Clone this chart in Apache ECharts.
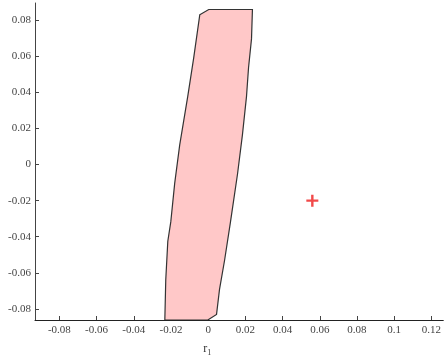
<!DOCTYPE html>
<html>
<head>
<meta charset="utf-8">
<script src="https://cdn.jsdelivr.net/npm/echarts@6/dist/echarts.min.js"></script>
<style>html,body{margin:0;padding:0;background:#fff}#c{width:444px;height:362px}</style>
</head>
<body>
<div id="c"></div>
<script>
// Region boundary (r1, r2) vertices
var regionR1 = [-0.0045, 0.0003, 0.0238, 0.0233, 0.0217, 0.0206, 0.0184, 0.0158, 0.0120, 0.0088, 0.0061, 0.0045, -0.0002, -0.0233, -0.0228, -0.0217, -0.0201, -0.0180, -0.0153, -0.0110, -0.0078];
var regionR2 = [0.0831, 0.0860, 0.0860, 0.0697, 0.0537, 0.0377, 0.0163, -0.0051, -0.0318, -0.0532, -0.0692, -0.0831, -0.0862, -0.0862, -0.0639, -0.0425, -0.0318, -0.0104, 0.0109, 0.0377, 0.0590];
// Marked point
var pointR1 = [0.0560];
var pointR2 = [-0.0200];
// Axis ranges / ticks
var xRange = [-0.0931, 0.1264];
var yRange = [-0.0862, 0.0896];
var xTicks = [-0.08, -0.06, -0.04, -0.02, 0, 0.02, 0.04, 0.06, 0.08, 0.1, 0.12];
var yTicks = [-0.08, -0.06, -0.04, -0.02, 0, 0.02, 0.04, 0.06, 0.08];

function isTick(v, list) {
  for (var i = 0; i < list.length; i++) if (Math.abs(v - list[i]) < 1e-9) return true;
  return false;
}
function fmt(v) { return String(parseFloat(v.toFixed(4))); }

var polyData = regionR1.map(function (x, i) { return [x, regionR2[i]]; });
var ptData = pointR1.map(function (x, i) { return [x, pointR2[i]]; });

var font = 'Liberation Serif';
var chart = echarts.init(document.getElementById('c'), null, { renderer: 'canvas' });
chart.setOption({
  animation: false,
  backgroundColor: '#fff',
  grid: { left: 35, right: 0, top: 3, bottom: 30, containLabel: false },
  xAxis: {
    type: 'value', min: xRange[0], max: xRange[1], splitNumber: 10,
    name: 'r{s|1}', nameLocation: 'middle', nameGap: 21,
    nameTextStyle: { fontFamily: font, fontSize: 12, color: '#333', padding: [0, 64, 0, 0],
      rich: { s: { fontFamily: font, fontSize: 8, color: '#333', verticalAlign: 'bottom', padding: [8, 0, 0, 0] } } },
    axisLine: { show: true, onZero: false, lineStyle: { color: '#222', width: 1 } },
    axisTick: { show: true, inside: true, length: 4, lineStyle: { color: '#444' } },
    axisLabel: { fontFamily: font, fontSize: 11, color: '#444', margin: 5, showMinLabel: false, showMaxLabel: false,
      formatter: function (v) { return isTick(v, xTicks) ? fmt(v) : ''; } },
    splitLine: { show: false }
  },
  yAxis: {
    type: 'value', min: yRange[0], max: yRange[1], splitNumber: 9,
    axisLine: { show: true, onZero: false, lineStyle: { color: '#444', width: 1 } },
    axisTick: { show: true, inside: true, length: 4, lineStyle: { color: '#444' } },
    axisLabel: { fontFamily: font, fontSize: 11, color: '#444', margin: 4, showMinLabel: false, showMaxLabel: false,
      formatter: function (v) { return isTick(v, yTicks) ? fmt(v) : ''; } },
    splitLine: { show: false }
  },
  series: [
    {
      type: 'custom',
      data: [0],
      clip: true,
      renderItem: function (params, api) {
        var pts = polyData.map(function (p) { return api.coord(p); });
        return {
          type: 'polygon',
          shape: { points: pts },
          style: { fill: '#ffc8c8', stroke: '#333', lineWidth: 1.2 }
        };
      }
    },
    {
      type: 'scatter',
      data: ptData,
      symbol: 'path://M4,0h2v4h4v2h-4v4h-2v-4h-4v-2h4z',
      symbolSize: 12,
      itemStyle: { color: '#ee1c1c' }
    }
  ]
});
</script>
</body>
</html>
